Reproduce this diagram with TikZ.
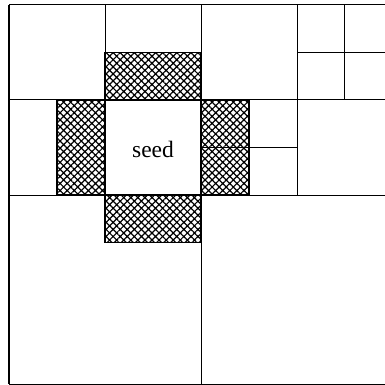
\documentclass[tikz,border=0pt]{standalone}
\usepackage{fontspec}
\setmainfont{Liberation Serif}
\usetikzlibrary{patterns.meta}
\begin{document}
\begin{tikzpicture}[x=1pt,y=-1pt,
  gridline/.style={line width=1pt,black},
  hatchbox/.style={draw=black,line width=1.5pt,
    pattern={Hatch[distance=5pt,angle=45,line width=1.2pt]},pattern color=black}]
\useasboundingbox (0,0) rectangle (385,385);
\fill[white] (0,0) rectangle (385,385);
\begin{scope}
\clip (0,0) rectangle (385,385);
% hatched neighbour cells
\path[hatchbox] (105,52.5) rectangle (201,100);
\path[hatchbox] (57,100) rectangle (105,195);
\path[hatchbox] (201,100) rectangle (249,195);
\path[hatchbox] (105,195) rectangle (201,242.5);
% outer frame
\draw[gridline] (400,5) -- (9,5) -- (9,384) -- (400,384);
\draw[line width=1.5pt] (9,5) -- (9,384);
% main grid lines
\draw[gridline] (9,100) -- (400,100);
\draw[gridline] (9,195) -- (400,195);
\draw[gridline] (105,5) -- (105,195);
\draw[gridline] (201,5) -- (201,384);
\draw[gridline] (297,5) -- (297,195);
% subdivisions
\draw[gridline] (344,5) -- (344,100);
\draw[gridline] (297,52.5) -- (400,52.5);
\draw[gridline] (201,147.5) -- (297,147.5);
\end{scope}
\node[font=\fontsize{23.5}{28}\selectfont] (seed) at (153,149) {seed};
\end{tikzpicture}
\end{document}
